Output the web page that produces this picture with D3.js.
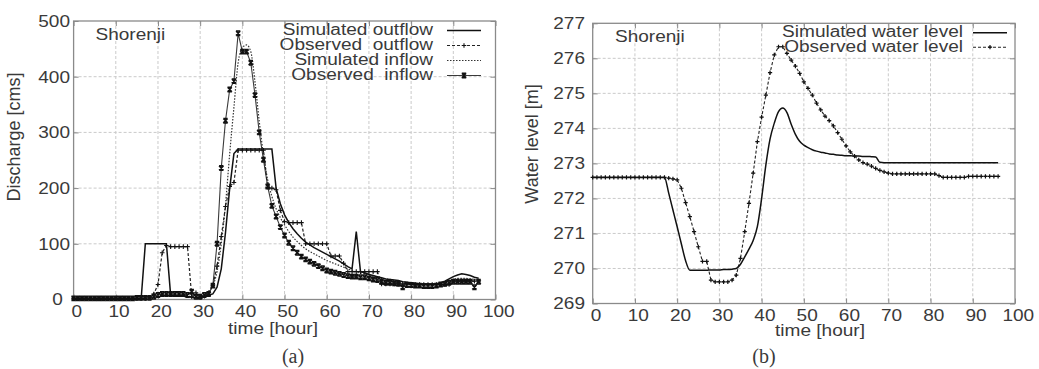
<!DOCTYPE html>
<html><head><meta charset="utf-8">
<script src="https://cdn.jsdelivr.net/npm/d3@7"></script>
<style>
html,body{margin:0;padding:0;background:#fff;}
text{font-family:"Liberation Sans",Arial,Helvetica,sans-serif;fill:#3a3a3a;font-weight:normal;white-space:pre;}
</style></head>
<body><svg id="c" width="1039" height="369"></svg>
<script>
// ---------- DATA ----------
const hours = d3.range(0, 97);
const xTicks = [0,10,20,30,40,50,60,70,80,90,100];
const yTicksQ = [0,100,200,300,400,500];
const yTicksH = [269,270,271,272,273,274,275,276,277];
const stationName = "Shorenji";
const legendQ = ["Simulated outflow","Observed  outflow","Simulated inflow","Observed  inflow"];
const legendH = ["Simulated water level","Observed water level"];

const simOutflow = [
 0,0,0,0,0,0,0,0,0,0,
 0,0,0,0,0,0,0,100,100,100,
 100,100,100,8,6,6,6,5,4,3,
 4,5,8,10,22,55,120,200,262,270,
 270,270,270,270,270,270,270,270,200,172,
 152,138,127,118,110,103,98,93,89,85,
 81,77,73,69,64,59,55,122,50,48,
 45,43,41,39,37,36,35,34,32,31,
 30,29,28,28,28,28,28,30,33,37,
 41,44,46,45,43,40,38];
const obsOutflow = [
 2,2,2,2,2,2,2,2,2,2,
 2,2,2,2,2,2,2,2,4,10,
 27,84,97,95,95,95,95,95,5,12,
 4,6,12,25,60,113,167,203,210,268,
 268,268,268,268,268,268,202,200,197,160,
 140,138,138,138,138,100,100,100,100,100,
 100,78,78,78,65,50,50,50,50,50,
 50,50,50,28,28,28,28,28,28,28,
 27,27,27,27,27,27,27,27,27,27,
 33,33,33,33,33,33,33];
const simInflow = [
 1,1,1,1,1,1,1,1,1,1,
 1,1,1,1,1,1,1,1,1,3,
 6,10,11,10,10,10,9,7,5,4,
 5,8,14,25,50,100,170,262,345,425,
 452,457,445,390,320,260,215,185,163,147,
 134,122,112,104,97,91,86,82,78,74,
 70,67,64,61,58,55,52,50,48,46,
 44,42,40,38,37,36,34,33,32,31,
 30,29,28,27,27,27,28,29,31,34,
 36,38,38,38,37,36,35];
const obsInflow = [
 2,2,2,2,2,2,2,2,2,2,
 2,2,2,2,2,3,3,3,3,5,
 8,10,10,10,10,10,10,8,14,5,
 5,8,10,25,100,236,321,377,392,478,
 445,445,425,367,300,251,203,168,149,130,
 115,102,92,84,77,72,68,64,60,56,
 52,50,48,46,44,42,41,41,40,40,
 38,36,35,32,30,30,29,28,22,26,
 26,25,25,24,24,24,25,27,28,30,
 32,32,32,32,32,22,32];
const simLevel = [
 272.6,272.6,272.6,272.6,272.6,272.6,272.6,272.6,272.6,272.6,
 272.6,272.6,272.6,272.6,272.6,272.6,272.6,272.6,272.15,271.67,
 271.19,270.7,270.22,269.95,269.95,269.95,269.95,269.95,269.96,269.96,
 269.96,269.97,269.97,269.98,270.0,270.12,270.33,270.55,270.8,271.2,
 272.0,272.95,273.7,274.15,274.48,274.58,274.45,274.12,273.83,273.63,
 273.52,273.45,273.39,273.35,273.32,273.3,273.27,273.26,273.24,273.23,
 273.22,273.22,273.21,273.21,273.2,273.2,273.19,273.18,273.03,273.02,
 273.02,273.02,273.02,273.02,273.02,273.02,273.02,273.02,273.02,273.02,
 273.02,273.02,273.02,273.02,273.02,273.02,273.02,273.02,273.02,273.02,
 273.02,273.02,273.02,273.02,273.02,273.02,273.02];
const obsLevel = [
 272.6,272.6,272.6,272.6,272.6,272.6,272.6,272.6,272.6,272.6,
 272.6,272.6,272.6,272.6,272.6,272.6,272.6,272.6,272.58,272.56,
 272.53,272.29,271.88,271.48,271.05,270.62,270.2,270.2,269.67,269.62,
 269.62,269.62,269.62,269.67,269.81,270.29,271.05,271.86,272.72,273.62,
 274.32,274.95,275.59,276.1,276.33,276.33,276.14,275.95,275.78,275.57,
 275.33,275.14,274.95,274.72,274.53,274.35,274.22,274.07,273.88,273.69,
 273.5,273.33,273.21,273.1,273.02,272.98,272.92,272.86,272.8,272.76,
 272.72,272.7,272.7,272.7,272.7,272.7,272.7,272.7,272.7,272.7,
 272.7,272.7,272.65,272.6,272.6,272.6,272.6,272.6,272.6,272.63,
 272.63,272.63,272.63,272.63,272.63,272.63,272.63];

// ---------- DRAW ----------
const svg = d3.select("#c");
svg.append("rect").attr("width",1039).attr("height",369).attr("fill","#fff");
const SX = 1.12;

function stxt(g, x, y, s, anchor, size, sx) {
  return g.append("text").attr("transform", `translate(${x},${y}) scale(${sx||SX},1)`)
    .attr("text-anchor", anchor).style("font-size", size + "px").text(s);
}

function panel(cfg) {
  const g = svg.append("g");
  const x = d3.scaleLinear().domain([0,100]).range(cfg.xr);
  const y = d3.scaleLinear().domain(cfg.yd).range(cfg.yr);
  const [x0,x1] = cfg.xr, [y0,y1] = cfg.yr;
  g.append("g").selectAll("line").data(xTicks.slice(1,-1)).join("line")
    .attr("x1", d=>x(d)).attr("x2", d=>x(d)).attr("y1", y1).attr("y2", y0)
    .attr("stroke","#cacaca").attr("stroke-width",1).attr("stroke-dasharray","3,2");
  g.append("g").selectAll("line").data(cfg.yt.slice(1,-1)).join("line")
    .attr("y1", d=>y(d)).attr("y2", d=>y(d)).attr("x1", x0).attr("x2", x1)
    .attr("stroke","#cacaca").attr("stroke-width",1).attr("stroke-dasharray","3,2");
  const ax = g.append("g").attr("transform",`translate(0,${y0})`)
    .call(d3.axisBottom(x).tickValues(xTicks).tickSize(-5).tickPadding(5));
  ax.selectAll("text").attr("transform",`scale(${SX},1)`).attr("dx", 2.5);
  const ay = g.append("g").attr("transform",`translate(${x0},0)`)
    .call(d3.axisLeft(y).tickValues(cfg.yt).tickSize(-5).tickPadding(cfg.yPad));
  ay.selectAll("text").attr("transform",`scale(${SX},1)`);
  if (cfg.zeroShift) ay.selectAll("text").filter(d=>d===0).attr("dx", cfg.zeroShift);
  g.append("g").attr("transform",`translate(0,${y1})`)
    .call(d3.axisTop(x).tickValues(xTicks).tickSize(-5).tickFormat(""));
  g.append("g").attr("transform",`translate(${x1},0)`)
    .call(d3.axisRight(y).tickValues(cfg.yt).tickSize(-5).tickFormat(""));
  g.selectAll(".domain").remove();
  g.selectAll(".tick line").attr("stroke","#888");
  g.selectAll(".tick text").style("font-size","17px").style("font-family","Liberation Sans, Arial, sans-serif").attr("fill","#3a3a3a");
  g.append("rect").attr("x",x0).attr("y",y1).attr("width",x1-x0).attr("height",y0-y1)
    .attr("fill","none").attr("stroke","#8a8a8a").attr("stroke-width",1.3);
  return {g,x,y};
}

function plus(g, cx, cy, r, w) {
  g.append("path").attr("d",`M${cx-r},${cy}H${cx+r}M${cx},${cy-r}V${cy+r}`)
    .attr("stroke","#111").attr("stroke-width",w).attr("fill","none");
}
function cross(g, cx, cy, r) {
  g.append("path").attr("d",`M${cx-r},${cy-r}L${cx+r},${cy+r}M${cx-r},${cy+r}L${cx+r},${cy-r}M${cx-r},${cy-r}H${cx+r}M${cx-r},${cy+r}H${cx+r}`)
    .attr("stroke","#111").attr("stroke-width",1.5).attr("fill","none");
}

// ---- Panel (a) ----
const A = panel({xr:[73.6,495.5], yd:[0,500], yr:[299.5,21], yt:yTicksQ, yPad:3.2, zeroShift:-6.5});
const lineA = (arr, curve) => d3.line().x((d,i)=>A.x(hours[i])).y(d=>A.y(d)).curve(curve||d3.curveLinear)(arr);
const sA = [
  {v:obsInflow, stroke:"#3a3a3a", w:1.1, dash:null},
  {v:simInflow, stroke:"#333", w:1.2, dash:"1.5,1.5", curve:d3.curveMonotoneX},
  {v:obsOutflow, stroke:"#222", w:1.2, dash:"3,2"},
  {v:simOutflow, stroke:"#111", w:1.5, dash:null},
];
sA.forEach(s=>{
  A.g.append("path").attr("d", lineA(s.v, s.curve)).attr("fill","none")
    .attr("stroke", s.stroke).attr("stroke-width", s.w).attr("stroke-dasharray", s.dash);
});
const mkA = A.g.append("g");
obsOutflow.forEach((d,i)=>plus(mkA, A.x(hours[i]), A.y(d), 2.3, 1.1));
obsInflow.forEach((d,i)=>cross(mkA, A.x(hours[i]), A.y(d), 2.2));

stxt(svg, 95.5, 39.5, stationName, "start", 17);
const legStyleA = [
  {stroke:"#111", w:1.5, dash:null, mk:null},
  {stroke:"#222", w:1.2, dash:"3,2", mk:"+"},
  {stroke:"#333", w:1.2, dash:"1.5,1.5", mk:null},
  {stroke:"#3a3a3a", w:1.1, dash:null, mk:"x"},
];
legendQ.forEach((lab,i)=>{
  const by = 35 + i*15;
  stxt(svg, 433, by, lab, "end", 16, 1.19);
  const ly = by - 4.5;
  svg.append("line").attr("x1",447).attr("x2",481).attr("y1",ly).attr("y2",ly)
    .attr("stroke",legStyleA[i].stroke).attr("stroke-width",legStyleA[i].w).attr("stroke-dasharray",legStyleA[i].dash);
  if (legStyleA[i].mk==="+") plus(svg, 464, ly, 2.3, 1.1);
  if (legStyleA[i].mk==="x") cross(svg, 464, ly, 2.2);
});
svg.append("text").attr("transform","translate(20,137) rotate(-90)").attr("text-anchor","middle")
  .style("font-size","18px").text("Discharge [cms]");
stxt(svg, 273, 333.5, "time [hour]", "middle", 16, 1.19);
svg.append("text").attr("x",293).attr("y",363).attr("text-anchor","middle")
  .style("font-family","'Liberation Serif','Times New Roman',serif").style("font-size","20px").attr("fill","#111").text("(a)");

// ---- Panel (b) ----
const B = panel({xr:[592.7,1015], yd:[269,277], yr:[303.5,23.3], yt:yTicksH, yPad:6.9});
const lineB = (arr, curve) => d3.line().x((d,i)=>B.x(hours[i])).y(d=>B.y(d)).curve(curve||d3.curveLinear)(arr);
B.g.append("path").attr("d", lineB(obsLevel)).attr("fill","none").attr("stroke","#222").attr("stroke-width",1.1).attr("stroke-dasharray","3,2");
B.g.append("path").attr("d", lineB(simLevel, d3.curveMonotoneX)).attr("fill","none").attr("stroke","#111").attr("stroke-width",1.5);
const mkB = B.g.append("g");
obsLevel.forEach((d,i)=>plus(mkB, B.x(hours[i]), B.y(d), 2.1, 1.2));

stxt(svg, 615, 41.7, stationName, "start", 17);
legendH.forEach((lab,i)=>{
  const by = 37 + i*14.5;
  stxt(svg, 963, by, lab, "end", 16, 1.19);
  const ly = by - 4.3;
  svg.append("line").attr("x1",973).attr("x2",1007).attr("y1",ly).attr("y2",ly)
    .attr("stroke", i===0?"#111":"#222").attr("stroke-width", i===0?1.5:1.1).attr("stroke-dasharray", i===0?null:"3,2");
  if (i===1) plus(svg, 990, ly, 2.1, 1.2);
});
svg.append("text").attr("transform","translate(538,144) rotate(-90)").attr("text-anchor","middle")
  .style("font-size","18px").text("Water level [m]");
stxt(svg, 820, 336, "time [hour]", "middle", 16, 1.19);
svg.append("text").attr("x",764).attr("y",363).attr("text-anchor","middle")
  .style("font-family","'Liberation Serif','Times New Roman',serif").style("font-size","20px").attr("fill","#111").text("(b)");
</script></body></html>
